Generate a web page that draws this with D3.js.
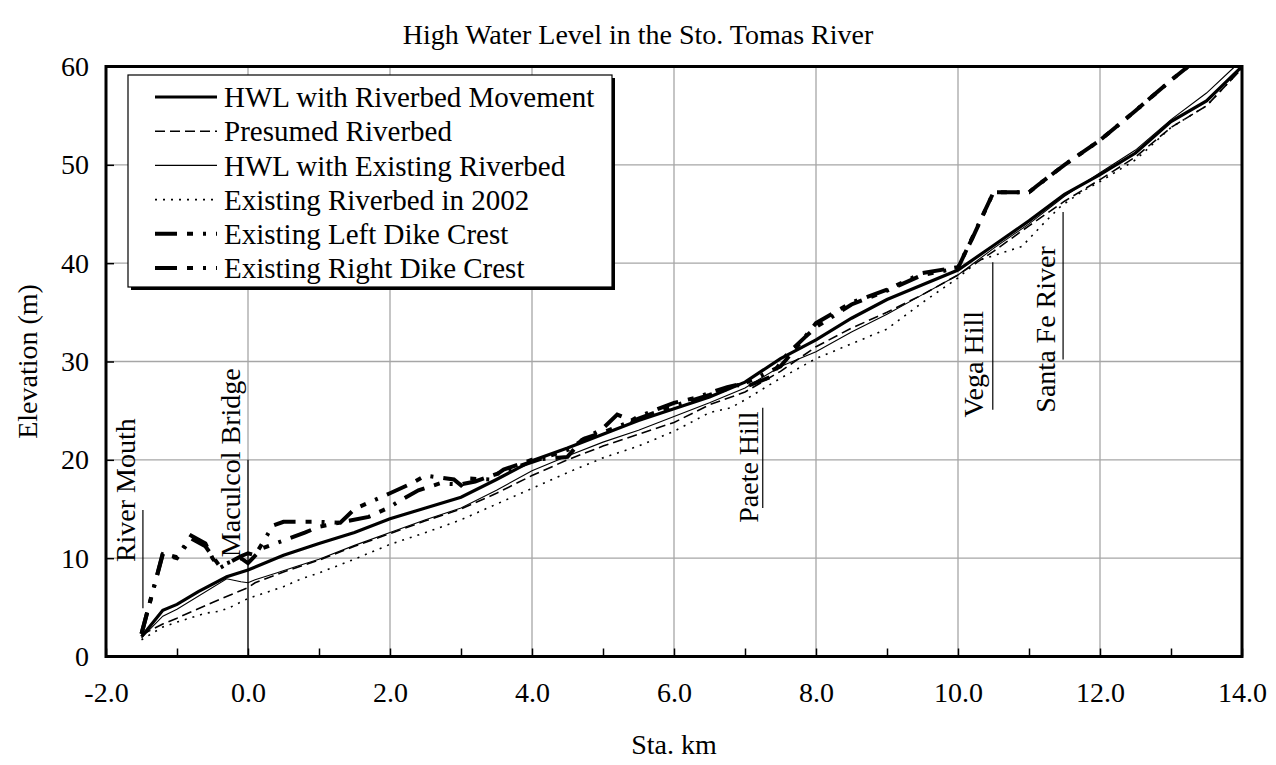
<!DOCTYPE html>
<html>
<head>
<meta charset="utf-8">
<script src="https://cdn.jsdelivr.net/npm/d3@7"></script>
<style>
  html, body { margin: 0; padding: 0; background: #fff; }
  svg { display: block; }
  text { font-family: "Liberation Serif", "Times New Roman", serif; fill: #000; }
</style>
</head>
<body>
<svg id="chart" width="1276" height="765"></svg>
<script>
// ---------------- DATA ----------------
const title = "High Water Level in the Sto. Tomas River";
const xTitle = "Sta. km";
const yTitle = "Elevation (m)";
const xTickValues = [-2, 0, 2, 4, 6, 8, 10, 12, 14];
const xTickLabels = ["-2.0", "0.0", "2.0", "4.0", "6.0", "8.0", "10.0", "12.0", "14.0"];
const yTickValues = [0, 10, 20, 30, 40, 50, 60];
const yTickLabels = ["0", "10", "20", "30", "40", "50", "60"];

const seriesNames = [
  "HWL with Riverbed Movement",
  "Presumed Riverbed",
  "HWL with Existing Riverbed",
  "Existing Riverbed in 2002",
  "Existing Left Dike Crest",
  "Existing Right Dike Crest"
];

// HWL with Riverbed Movement
const hwlMoveKm  = [-1.5,-1.2,-1.0,-0.7,-0.3,0.0,0.5,1.0,1.5,2.0,2.5,3.0,3.5,4.0,4.5,5.0,5.5,6.0,6.5,7.0,7.5,8.0,8.5,9.0,9.5,10.0,10.5,11.0,11.5,12.0,12.5,13.0,13.5,14.0];
const hwlMoveVal = [2.0,4.7,5.3,6.6,8.1,8.8,10.3,11.5,12.6,14.0,15.1,16.2,18.0,19.9,21.2,22.6,24.0,25.2,26.4,27.9,30.3,32.2,34.4,36.3,37.8,39.3,41.8,44.3,47.0,49.0,51.2,54.4,56.5,60.0];

// Presumed Riverbed
const presumedKm  = [-1.5,-1.2,-1.0,-0.5,0.0,0.1,0.5,1.0,1.5,2.0,2.5,3.0,3.5,4.0,4.5,5.0,5.5,6.0,6.5,7.0,7.5,8.0,8.5,9.0,9.5,10.0,10.5,11.0,11.5,12.0,12.5,13.0,13.5,14.0];
const presumedVal = [2.2,3.3,3.9,5.5,7.0,7.5,8.6,9.8,11.2,12.5,13.8,15.0,16.6,18.4,20.0,21.4,22.6,23.8,25.6,26.9,29.0,31.5,33.4,35.0,36.8,38.8,41.2,43.8,46.3,48.5,50.8,53.8,56.0,59.8];

// HWL with Existing Riverbed
const hwlExistKm  = [-1.5,-1.2,-1.0,-0.3,-0.1,0.0,0.1,0.4,0.7,1.0,1.5,2.0,2.5,3.0,3.5,4.0,4.5,5.0,5.5,6.0,6.5,7.0,7.5,8.0,8.5,9.0,9.5,10.0,10.5,11.0,11.5,12.0,12.5,13.0,13.5,13.9];
const hwlExistVal = [1.9,4.1,4.8,7.9,7.6,7.5,7.8,8.5,9.2,9.9,11.3,12.6,13.9,15.1,16.9,18.9,20.4,21.8,23.0,24.4,25.8,27.3,29.5,31.0,33.0,34.8,36.8,38.8,41.5,44.0,46.8,49.2,51.5,54.6,57.3,60.0];

// Existing Riverbed in 2002
const bed2002Km  = [-1.5,-1.2,-1.0,-0.6,-0.4,-0.25,0.0,0.5,0.75,1.0,1.5,2.0,2.5,3.0,3.5,4.0,4.5,5.0,5.5,6.0,6.5,6.8,7.0,7.5,8.0,8.5,9.0,9.5,10.0,10.3,10.9,11.2,11.45,11.75,12.0,12.5,13.0,13.5,14.0];
const bed2002Val = [1.7,3.0,3.5,4.4,4.6,5.0,5.9,7.1,7.9,8.5,9.9,11.4,12.6,13.9,15.5,17.1,18.7,20.2,21.4,22.9,24.8,25.3,26.1,28.3,30.3,31.8,33.3,36.0,38.5,40.3,41.7,44.0,45.8,47.3,48.3,50.5,53.8,56.0,59.8];

// Existing Left Dike Crest
const leftDikeKm  = [-1.5,-1.2,-1.0,-0.8,-0.6,-0.5,-0.4,-0.1,0.0,0.1,0.35,0.5,1.0,1.3,1.5,2.0,2.3,2.5,2.9,3.0,3.1,3.4,3.6,4.0,4.5,4.7,5.0,5.2,5.4,5.5,6.0,6.3,6.5,6.75,7.0,7.5,7.7,8.0,8.5,9.0,9.5,10.0,10.2,10.5,11.0,11.1,11.5,12.0,12.5,13.0,13.5,14.0];
const leftDikeVal = [2.3,10.5,10.1,12.3,11.5,10.0,9.0,10.2,10.5,10.3,13.3,13.7,13.7,13.6,15.0,16.6,17.6,18.4,18.0,17.4,18.1,18.0,19.0,20.0,20.3,22.0,23.2,24.6,24.0,24.4,25.8,26.3,26.8,27.4,27.8,29.5,31.2,33.9,36.0,37.3,39.0,39.6,42.5,47.2,47.2,47.8,50.0,52.5,55.5,58.6,61.5,64.5];

// Existing Right Dike Crest
const rightDikeKm  = [-1.5,-1.2,-1.0,-0.8,-0.6,-0.4,-0.1,0.0,0.2,0.5,0.8,1.0,1.7,2.0,2.15,2.4,2.7,3.0,3.2,3.4,4.0,4.5,4.75,5.0,5.5,6.0,6.5,6.9,7.0,7.35,7.6,7.85,8.0,8.5,9.0,9.5,10.0,10.5,11.0,11.1,11.5,12.0,12.5,13.0,13.5,14.0];
const rightDikeVal = [2.3,10.4,10.0,12.0,11.2,9.2,10.0,9.5,11.0,11.8,12.6,13.2,14.2,15.2,15.9,16.9,17.6,17.5,17.8,18.3,19.8,21.0,22.2,22.8,24.2,25.5,26.6,27.6,27.4,28.4,30.8,32.5,33.5,35.8,37.2,38.8,39.5,47.2,47.2,47.8,50.0,52.5,55.5,58.6,61.5,64.5];

// Site annotations: label, station (km) of marker line, marker elev range, label anchor
const siteNames    = ["River Mouth", "Maculcol Bridge", "Paete Hill", "Vega Hill", "Santa Fe River"];
const siteKm       = [-1.48, 0.0, 7.25, 10.49, 11.48];
const siteLineLo   = [4.9, 0.0, 15.1, 25.1, 30.2];
const siteLineHi   = [14.9, 20.0, 25.3, 40.1, 45.2];
const siteTextKm   = [-1.59, -0.11, 7.18, 10.35, 11.37];
const siteTextElev = [9.6, 10.1, 13.6, 24.3, 24.8];

// ---------------- CHART ----------------
const svg = d3.select("#chart");
const W = 1276, H = 765;
const plot = { left: 106, right: 1242, top: 66.5, bottom: 656.5 };
const serif = "Liberation Serif, Times New Roman, serif";
const FS = 28;

const x = d3.scaleLinear().domain([-2, 14]).range([plot.left, plot.right]);
const y = d3.scaleLinear().domain([0, 60]).range([plot.bottom, plot.top]);

svg.append("rect").attr("width", W).attr("height", H).attr("fill", "#fff");

// grid
const grid = svg.append("g");
grid.selectAll("line.vg").data(xTickValues.slice(1, -1)).enter().append("line")
  .attr("x1", d => x(d)).attr("x2", d => x(d))
  .attr("y1", plot.top).attr("y2", plot.bottom)
  .attr("stroke", "#a6a6a6").attr("stroke-width", 1.3);
grid.selectAll("line.hg").data(yTickValues.slice(1, -1)).enter().append("line")
  .attr("x1", plot.left).attr("x2", plot.right)
  .attr("y1", d => y(d)).attr("y2", d => y(d))
  .attr("stroke", "#a6a6a6").attr("stroke-width", 1.3);

// axes with inward ticks
const xAxis = d3.axisBottom(x).tickValues(d3.range(-2, 14.01, 1))
  .tickSize(-8).tickFormat(d => { const i = xTickValues.indexOf(d); return i >= 0 ? xTickLabels[i] : ""; })
  .tickPadding(26);
const gx = svg.append("g").attr("transform", `translate(0,${plot.bottom})`).call(xAxis);
gx.select(".domain").remove();
gx.selectAll(".tick line").attr("stroke", "#000").attr("stroke-width", 1.5);
gx.selectAll(".tick text").attr("font-size", FS).attr("font-family", serif).attr("fill", "#000");

const yAxis = d3.axisLeft(y).tickValues(yTickValues)
  .tickSize(-8).tickFormat((d, i) => yTickLabels[i]).tickPadding(17);
const gy = svg.append("g").attr("transform", `translate(${plot.left},0)`).call(yAxis);
gy.select(".domain").remove();
gy.selectAll(".tick line").attr("stroke", "#000").attr("stroke-width", 1.5);
gy.selectAll(".tick text").attr("font-size", FS).attr("font-family", serif).attr("fill", "#000");

// clip
svg.append("clipPath").attr("id", "clip").append("rect")
  .attr("x", plot.left).attr("y", plot.top)
  .attr("width", plot.right - plot.left).attr("height", plot.bottom - plot.top);

// annotations (marker lines + vertical labels)
const ann = svg.append("g");
siteNames.forEach((name, i) => {
  ann.append("line")
    .attr("x1", x(siteKm[i])).attr("x2", x(siteKm[i]))
    .attr("y1", y(siteLineLo[i])).attr("y2", y(siteLineHi[i]))
    .attr("stroke", "#000").attr("stroke-width", 1.2);
  ann.append("text")
    .attr("transform", `translate(${x(siteTextKm[i])},${y(siteTextElev[i])}) rotate(-90)`)
    .attr("font-size", 28).attr("text-anchor", "start")
    .text(name);
});

// series
const seriesKm = [hwlMoveKm, presumedKm, hwlExistKm, bed2002Km, leftDikeKm, rightDikeKm];
const seriesVal = [hwlMoveVal, presumedVal, hwlExistVal, bed2002Val, leftDikeVal, rightDikeVal];
const styles = [
  { w: 3.2, dash: null },
  { w: 1.6, dash: "10,5" },
  { w: 1.1, dash: null },
  { w: 1.6, dash: "2,6" },
  { w: 4, dash: "22,10,6,10,3,10" },
  { w: 4, dash: "22,10,6,10,3,10" }
];
const line = d3.line().x(d => x(d[0])).y(d => y(d[1]));
const gl = svg.append("g").attr("clip-path", "url(#clip)");
seriesKm.forEach((km, i) => {
  const pts = km.map((k, j) => [k, seriesVal[i][j]]);
  gl.append("path").datum(pts).attr("d", line)
    .attr("fill", "none").attr("stroke", "#000")
    .attr("stroke-width", styles[i].w)
    .attr("stroke-dasharray", styles[i].dash)
    .attr("stroke-linejoin", "miter");
});

// frame
svg.append("rect").attr("x", plot.left).attr("y", plot.top)
  .attr("width", plot.right - plot.left).attr("height", plot.bottom - plot.top)
  .attr("fill", "none").attr("stroke", "#000").attr("stroke-width", 3);

// legend
const lg = { x: 128, y: 75, w: 484, h: 212 };
svg.append("rect").attr("x", lg.x + 3).attr("y", lg.y + 3).attr("width", lg.w).attr("height", lg.h).attr("fill", "#000");
svg.append("rect").attr("x", lg.x).attr("y", lg.y).attr("width", lg.w).attr("height", lg.h)
  .attr("fill", "#fff").attr("stroke", "#000").attr("stroke-width", 1.2);
const legG = svg.append("g");
seriesNames.forEach((name, i) => {
  const cy = 97 + i * 34.2;
  legG.append("line").attr("x1", 155).attr("x2", 217).attr("y1", cy).attr("y2", cy)
    .attr("stroke", "#000").attr("stroke-width", styles[i].w)
    .attr("stroke-dasharray", styles[i].dash);
  legG.append("text").attr("x", 224).attr("y", cy).attr("dy", "0.35em")
    .attr("font-size", 29).text(name);
});

// titles
svg.append("text").attr("x", 638).attr("y", 44).attr("text-anchor", "middle")
  .attr("font-size", FS).text(title);
svg.append("text").attr("x", 674).attr("y", 754).attr("text-anchor", "middle")
  .attr("font-size", FS).text(xTitle);
svg.append("text").attr("transform", `translate(37,${(plot.top + plot.bottom) / 2}) rotate(-90)`)
  .attr("text-anchor", "middle").attr("font-size", FS).text(yTitle);
</script>
</body>
</html>
